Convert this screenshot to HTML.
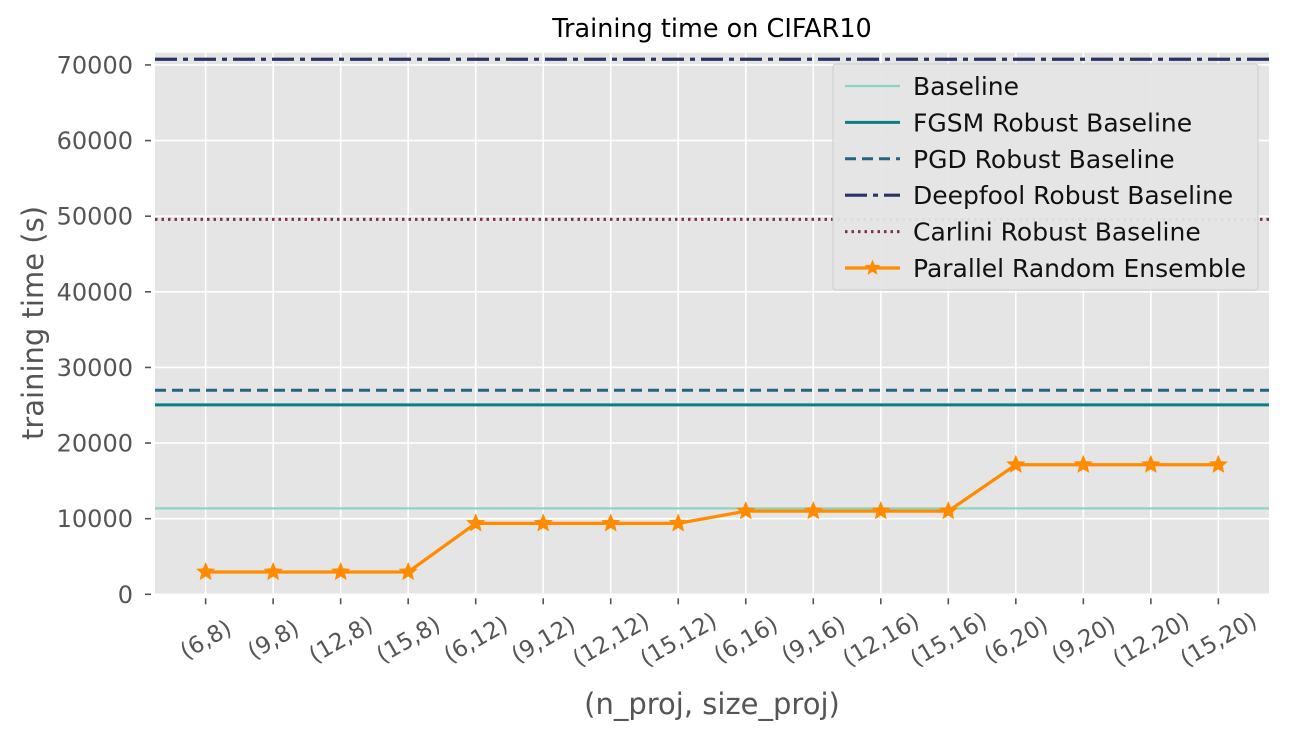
<!DOCTYPE html>
<html><head><meta charset="utf-8"><style>
body{margin:0;background:#fff;}
svg{font-family:"DejaVu Sans","Liberation Sans",sans-serif;}
</style></head><body>
<svg id="chart" width="1291" height="737" xmlns="http://www.w3.org/2000/svg">
<text x="712" y="37" text-anchor="middle" font-size="25.5" fill="#000">Training time on CIFAR10</text>
<rect x="155" y="52.7" width="1114" height="541.6" fill="#e5e5e5"/>
<g id="grid"></g>
<g id="ticks"></g>
<g id="series"></g>
<text transform="translate(43,323) rotate(-90)" text-anchor="middle" font-size="29" fill="#555">training time (s)</text>
<text x="712" y="714" text-anchor="middle" font-size="29" fill="#555">(n_proj, size_proj)</text>
<g id="legend"></g>
</svg>
<script>
const categories=["(6,8)","(9,8)","(12,8)","(15,8)","(6,12)","(9,12)","(12,12)","(15,12)","(6,16)","(9,16)","(12,16)","(15,16)","(6,20)","(9,20)","(12,20)","(15,20)"];
const ensembleValues=[2950,2950,2950,2950,9380,9380,9380,9380,11000,11000,11000,11000,17130,17130,17130,17130];
const baselineNames=["Baseline","FGSM Robust Baseline","PGD Robust Baseline","Deepfool Robust Baseline","Carlini Robust Baseline"];
const baselineValues=[11360,25050,26990,70750,49580];
const yTicks=[0,10000,20000,30000,40000,50000,60000,70000];
const ensembleName="Parallel Random Ensemble";

const NS="http://www.w3.org/2000/svg";
const X0=155,X1=1269,Y0=594.3,Y1=52.7,YMAX=71620;
const xs=i=>X0+(i+0.75)*(X1-X0)/(categories.length-1+1.5);
const ys=v=>Y0-(v/YMAX)*(Y0-Y1);
function mk(t,a,p){const e=document.createElementNS(NS,t);for(const k in a)e.setAttribute(k,a[k]);p.appendChild(e);return e;}
const grid=document.getElementById('grid'),ticks=document.getElementById('ticks'),series=document.getElementById('series'),legend=document.getElementById('legend');
yTicks.forEach(v=>{
 const l=mk('line',{x1:X0,x2:X1,y1:ys(v),y2:ys(v),stroke:'#fff','stroke-width':1.6},grid);
 
 
 const t=mk('line',{x1:X0-10,x2:X0-4,y1:ys(v),y2:ys(v),stroke:'#555','stroke-width':1.6},ticks);
 
 
 const tx=mk('text',{x:X0-22,y:ys(v)+8.5,'text-anchor':'end','font-size':24,fill:'#555'},ticks);
 tx.textContent=v;
 
 
});
categories.forEach((c,i)=>{
 const x=xs(i);
 const l=mk('line',{x1:x,x2:x,y1:Y1,y2:Y0,stroke:'#fff','stroke-width':1.6},grid);
 
 
 const t=mk('line',{x1:x,x2:x,y1:Y0+4,y2:Y0+10,stroke:'#555','stroke-width':1.6},ticks);
 
 
 const tx=mk('text',{transform:`translate(${x},${Y0+45}) rotate(-30)`,'text-anchor':'middle','dy':'8','font-size':23,fill:'#555'},ticks);
 tx.textContent=c;
 
 
});
const styles=[
 {stroke:'#8fd3c5',w:2.2,dash:''},
 {stroke:'#0a7f86',w:3,dash:''},
 {stroke:'#256583',w:3,dash:'11,6'},
 {stroke:'#2a3462',w:3.2,dash:'22,6,5,6'},
 {stroke:'#7e2c52',w:3,dash:'2.5,4'}
];
baselineValues.forEach((v,i)=>{
 const s=styles[i];
 const l=mk('line',{x1:X0,x2:X1,y1:ys(v),y2:ys(v),stroke:s.stroke,'stroke-width':s.w,'stroke-dasharray':s.dash},series);
 
 
});
const pts=ensembleValues.map((v,i)=>xs(i)+','+ys(v)).join(' ');
const pl=mk('polyline',{points:pts,fill:'none',stroke:'#ff8c00','stroke-width':3.3},series);


function star(cx,cy,r){let p=[];for(let k=0;k<10;k++){const a=-Math.PI/2+k*Math.PI/5,rr=k%2?r*0.45:r;p.push((cx+rr*Math.cos(a)).toFixed(1)+','+(cy+rr*Math.sin(a)).toFixed(1));}return p.join(' ');}
ensembleValues.forEach((v,i)=>{
 const s=mk('polygon',{points:star(xs(i),ys(v),8.5),fill:'#ff8c00',stroke:'#ff8c00','stroke-width':1.2},series);
 
 
});
const lb=mk('rect',{x:833,y:64,width:425,height:226,fill:'#e5e5e5',stroke:'#ccc','stroke-width':1,rx:3,opacity:0.95},legend);


const names=baselineNames.concat([ensembleName]);
names.forEach((n,i)=>{
 const y=86+i*36.4;
 const g=mk('g',{},legend);
 
 
 if(i<5){const s=styles[i];mk('line',{x1:845,x2:900,y1:y,y2:y,stroke:s.stroke,'stroke-width':s.w,'stroke-dasharray':s.dash},g);}
 else{mk('line',{x1:845,x2:900,y1:y,y2:y,stroke:'#ff8c00','stroke-width':3.3},g);mk('polygon',{points:star(872.5,y,8.5),fill:'#ff8c00'},g);}
 const t=mk('text',{x:913,y:y+9,'font-size':25,fill:'#111'},g);
 t.textContent=n;
});
</script>
</body></html>
